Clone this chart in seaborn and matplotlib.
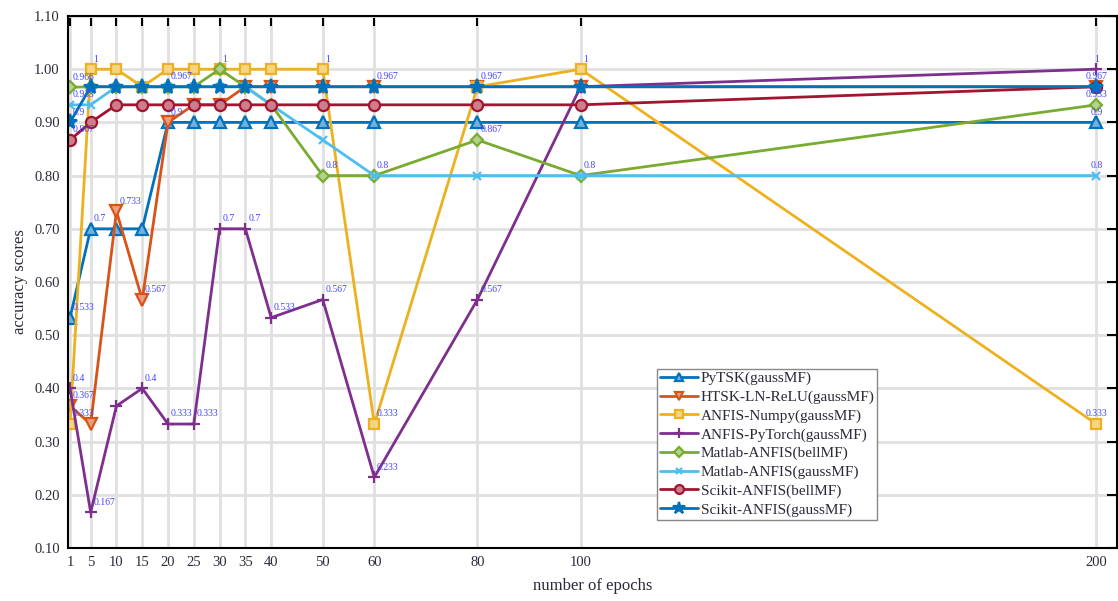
import numpy as np
import pandas as pd
import matplotlib
matplotlib.use("Agg")
import matplotlib.pyplot as plt
import matplotlib.colors as mcolors
import seaborn as sns

# Training epochs evaluated
epochs = [1, 5, 10, 15, 20, 25, 30, 35, 40, 50, 60, 80, 100, 200]

# Accuracy of each model at each epoch count
pytsk_gauss = [0.533, 0.7, 0.7, 0.7, 0.9, 0.9, 0.9, 0.9, 0.9, 0.9, 0.9, 0.9, 0.9, 0.9]
htsk_ln_relu = [0.367, 0.333, 0.733, 0.567, 0.9, 0.933, 0.933, 0.967, 0.967, 0.967, 0.967, 0.967, 0.967, 0.967]
anfis_numpy = [0.333, 1.0, 1.0, 0.967, 1.0, 1.0, 1.0, 1.0, 1.0, 1.0, 0.333, 0.967, 1.0, 0.333]
anfis_pytorch = [0.4, 0.167, 0.367, 0.4, 0.333, 0.333, 0.7, 0.7, 0.533, 0.567, 0.233, 0.567, 0.967, 1.0]
matlab_bell = [0.966, 0.967, 0.967, 0.967, 0.967, 0.967, 1.0, 0.967, 0.933, 0.8, 0.8, 0.867, 0.8, 0.933]
matlab_gauss = [0.933, 0.933, 0.967, 0.967, 0.967, 0.967, 0.967, 0.967, 0.933, 0.867, 0.8, 0.8, 0.8, 0.8]
scikit_bell = [0.867, 0.9, 0.933, 0.933, 0.933, 0.933, 0.933, 0.933, 0.933, 0.933, 0.933, 0.933, 0.933, 0.967]
scikit_gauss = [0.9, 0.967, 0.967, 0.967, 0.967, 0.967, 0.967, 0.967, 0.967, 0.967, 0.967, 0.967, 0.967, 0.967]

model_names = [
    "PyTSK(gaussMF)",
    "HTSK-LN-ReLU(gaussMF)",
    "ANFIS-Numpy(gaussMF)",
    "ANFIS-PyTorch(gaussMF)",
    "Matlab-ANFIS(bellMF)",
    "Matlab-ANFIS(gaussMF)",
    "Scikit-ANFIS(bellMF)",
    "Scikit-ANFIS(gaussMF)",
]
model_scores = [pytsk_gauss, htsk_ln_relu, anfis_numpy, anfis_pytorch,
                matlab_bell, matlab_gauss, scikit_bell, scikit_gauss]

# Epochs at which each model's value is printed next to its marker
labelled_epochs = [
    [1, 5, 200],
    [1, 10, 15, 20],
    [1, 5, 50, 60, 80, 100, 200],
    [1, 5, 15, 20, 25, 30, 35, 40, 50, 60, 80, 200],
    [1, 30, 50, 80, 100, 200],
    [1, 60, 200],
    [1],
    [1, 20, 60, 200],
]

colors = ["#0072BD", "#D95319", "#EDB120", "#7E2F8E",
          "#77AC30", "#4DBEEE", "#A2142F", "#0072BD"]
markers = ["^", "v", "s", "+", "D", "x", "o", "*"]
marker_sizes = [8, 8, 7, 9, 6, 6, 8, 11]

sns.set_theme(style="whitegrid")
plt.rcParams["font.family"] = ["Liberation Serif", "DejaVu Serif"]

fig = plt.figure(figsize=(11.18, 6.01), dpi=100)
ax = fig.add_axes([0.0608, 0.0882, 0.9383, 0.8852])

for name, scores, color, mk, ms in zip(model_names, model_scores, colors, markers, marker_sizes):
    df = pd.DataFrame({"epoch": epochs, "accuracy": scores})
    face = mcolors.to_hex(0.55 * np.array(mcolors.to_rgb(color)) + 0.45) if mk != "*" else color
    sns.lineplot(data=df, x="epoch", y="accuracy", ax=ax, color=color, marker=mk,
                 markersize=ms, markerfacecolor=face, markeredgecolor=color,
                 markeredgewidth=1.6, linewidth=2.0, label=name, legend=False)

# Value labels
for scores, eps in zip(model_scores, labelled_epochs):
    for ep in eps:
        v = scores[epochs.index(ep)]
        txt = "1" if v == 1.0 else f"{v:g}"
        last = ep == epochs[-1]
        ax.annotate(txt, (ep, v), xytext=(0 if last else 2, 4), textcoords="offset points",
                    ha="center" if last else "left", va="bottom",
                    fontsize=7, color="#4444ff", zorder=10)

ax.set_xlim(0.6, 204)
ax.set_ylim(0.1, 1.1)
ax.set_xticks(epochs)
ax.set_xticklabels([str(e) for e in epochs])
ax.set_yticks(np.round(np.arange(0.1, 1.101, 0.1), 2))
ax.set_yticklabels([f"{t:.2f}" for t in np.arange(0.1, 1.101, 0.1)])

ax.grid(True, color="#e0e0e0", linewidth=2.0)
ax.set_axisbelow(True)
for s in ax.spines.values():
    s.set_visible(True)
    s.set_color("black")
    s.set_linewidth(1.5)
ax.tick_params(direction="in", top=True, right=True, length=7, width=1.5,
               labelsize=10.5, colors="black", labelcolor="#2a2a3a", pad=6)

ax.set_xlabel("number of epochs", fontsize=12, color="#2a2a3a", labelpad=6)
ax.set_ylabel("accuracy scores", fontsize=12, color="#2a2a3a", labelpad=4)

leg = ax.legend(loc="lower left", bbox_to_anchor=(0.5615, 0.053), fontsize=11,
                frameon=True, fancybox=False, edgecolor="#888888", framealpha=1,
                handlelength=2.5, handletextpad=0.15, borderpad=0.2,
                labelspacing=0.32, borderaxespad=0, markerscale=0.8)
leg.get_frame().set_linewidth(1.0)
for t in leg.get_texts():
    t.set_color("#2a2a3a")

fig.savefig("out.png", dpi=100)
